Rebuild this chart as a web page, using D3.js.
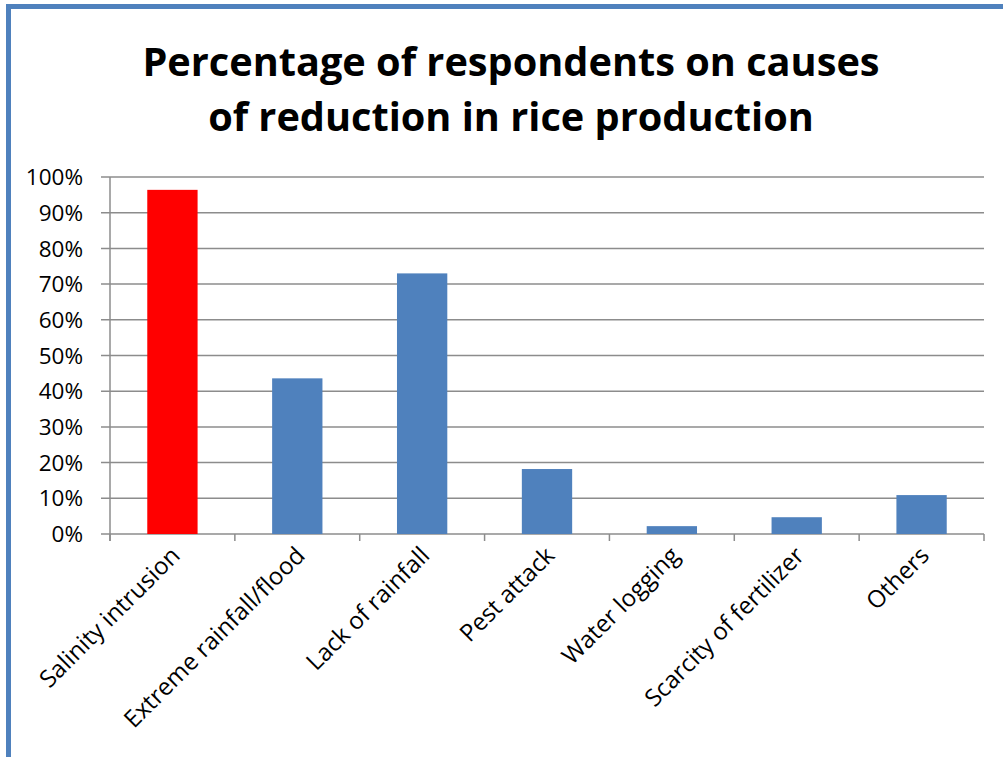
<!DOCTYPE html>
<html>
<head>
<meta charset="utf-8">
<script src="https://cdn.jsdelivr.net/npm/d3@7"></script>
<style>
  html, body { margin: 0; padding: 0; background: #fff; }
  svg { display: block; }
</style>
</head>
<body>
<svg id="chart" width="1003" height="757"></svg>
<script>
// Survey results: share of respondents naming each cause
const categories = [
  "Salinity intrusion",
  "Extreme rainfall/flood",
  "Lack of rainfall",
  "Pest attack",
  "Water logging",
  "Scarcity of fertilizer",
  "Others"
];
const percentValues = [96.4, 43.6, 73.0, 18.2, 2.2, 4.7, 10.9];
const yTickValues = [0, 10, 20, 30, 40, 50, 60, 70, 80, 90, 100];
const titleLines = ["Percentage of respondents on causes", "of reduction in rice production"];

const svg = d3.select("#chart");
const font = "'Open Sans', 'Noto Sans', sans-serif";

// Frame around the chart
svg.append("rect")
  .attr("x", 8.5).attr("y", 6.5)
  .attr("width", 1100).attr("height", 1000)
  .attr("fill", "none")
  .attr("stroke", "#4f81bd")
  .attr("stroke-width", 5);

// Title
svg.append("g").selectAll("text")
  .data(titleLines)
  .join("text")
  .attr("x", 511)
  .attr("y", (d, i) => 76 + i * 55)
  .attr("text-anchor", "middle")
  .attr("font-family", font)
  .attr("font-weight", "bold")
  .attr("font-size", 39.7)
  .attr("fill", "#000")
  .text(d => d);

const plot = { left: 110, right: 984, top: 177, bottom: 534 };

const x = d3.scaleBand()
  .domain(categories)
  .range([plot.left, plot.right])
  .padding(0);

const y = d3.scaleLinear()
  .domain([0, 100])
  .range([plot.bottom, plot.top]);

const gridColor = "#8c8c8c";

// Horizontal gridlines with outward ticks
svg.append("g")
  .selectAll("line")
  .data(yTickValues)
  .join("line")
  .attr("x1", plot.left - 9)
  .attr("x2", plot.right)
  .attr("y1", d => y(d))
  .attr("y2", d => y(d))
  .attr("stroke", gridColor)
  .attr("stroke-width", 1.5);

// Y axis labels
svg.append("g")
  .selectAll("text")
  .data(yTickValues)
  .join("text")
  .attr("x", 83)
  .attr("y", d => y(d))
  .attr("dy", "0.36em")
  .attr("text-anchor", "end")
  .attr("font-family", font)
  .attr("font-size", 22.5)
  .attr("fill", "#000")
  .text(d => d + "%");

// Bars
const barWidth = x.bandwidth() * 0.403;
svg.append("g")
  .selectAll("rect")
  .data(categories)
  .join("rect")
  .attr("x", d => x(d) + (x.bandwidth() - barWidth) / 2)
  .attr("width", barWidth)
  .attr("y", (d, i) => y(percentValues[i]))
  .attr("height", (d, i) => y(0) - y(percentValues[i]))
  .attr("fill", (d, i) => i === 0 ? "#ff0000" : "#4f81bd");

// Vertical axis line
svg.append("line")
  .attr("x1", plot.left).attr("x2", plot.left)
  .attr("y1", plot.top).attr("y2", plot.bottom + 7)
  .attr("stroke", gridColor)
  .attr("stroke-width", 1.5);

// Category separators below the baseline
const sepPositions = categories.map(c => x(c)).concat([x(categories[categories.length - 1]) + x.bandwidth()]);
svg.append("g")
  .selectAll("line")
  .data(sepPositions)
  .join("line")
  .attr("x1", d => d).attr("x2", d => d)
  .attr("y1", plot.bottom).attr("y2", plot.bottom + 7)
  .attr("stroke", gridColor)
  .attr("stroke-width", 1.5);

// Rotated category labels
svg.append("g")
  .selectAll("text")
  .data(categories)
  .join("text")
  .attr("transform", d => `translate(${x(d) + x.bandwidth() / 2 + 9},${plot.bottom + 23}) rotate(-45)`)
  .attr("text-anchor", "end")
  .attr("font-family", font)
  .attr("font-size", 24)
  .attr("fill", "#000")
  .text(d => d);
</script>
</body>
</html>
